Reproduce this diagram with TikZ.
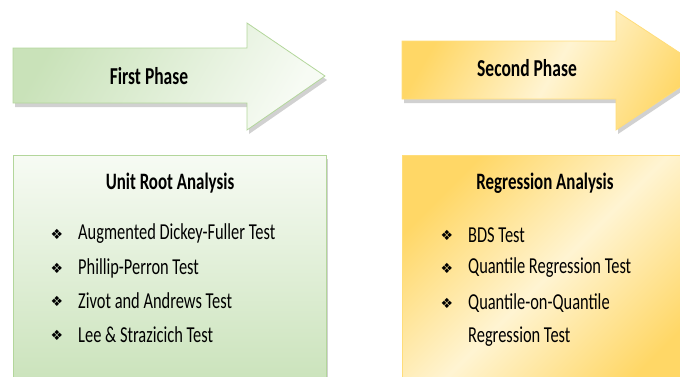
\documentclass[tikz,border=0pt]{standalone}
\usepackage{fontspec}
\setmainfont[FakeStretch=0.72]{Carlito}
\newfontfamily\simboli{DejaVu Sans}
\usetikzlibrary{shadows,positioning}
\definecolor{verdeA}{HTML}{C9E2B9}
\definecolor{verdeB}{HTML}{F7FBF4}
\definecolor{bordoV}{HTML}{B3D69B}
\definecolor{giallo}{HTML}{FFD766}
\definecolor{crema}{HTML}{FFF4D2}
\definecolor{bordoG}{HTML}{FFDD7A}
\tikzset{
  titolo/.style={font=\bfseries\fontsize{23.5}{26}\selectfont},
  voce/.style={font=\fontsize{22.8}{26}\selectfont, anchor=west, inner sep=0pt},
  punto/.style={font=\simboli\fontsize{14}{16}\selectfont, inner sep=0pt},
  ombra/.style={drop shadow={shadow xshift=2pt,shadow yshift=-4pt,opacity=0.3,fill=black!60}},
}
\begin{document}
\begin{tikzpicture}[x=1pt,y=-1pt]
        \clip (0,0) rectangle (680,376); %cornice
        %freccia prima fase
        \draw[bordoV, line width=0.8pt, ombra, left color=verdeA, right color=verdeB, shading angle=60]
          (13,48)--(247,48)--(247,23)--(325,76)--(247,130)--(247,103)--(13,103)--cycle;
        \node[titolo, font=\bfseries\fontsize{24.3}{26}\selectfont] (fase1) at (149,76) {First Phase};
        %freccia seconda fase
        \draw[bordoG, line width=0.8pt, ombra, left color=giallo, right color=giallo, middle color=crema, shading angle=60]
          (402,41)--(616,41)--(616,11)--(706,70)--(616,130)--(616,99)--(402,99)--cycle;
        \node[titolo, font=\bfseries\fontsize{24.3}{26}\selectfont] (fase2) at (527,68) {Second Phase};
        %riquadro radice unitaria
        \draw[bordoV, line width=0.8pt, ombra, top color=verdeB, bottom color=verdeA]
          (13,155) rectangle (326,390);
        \node[titolo] (radice) at (170,183) {Unit Root Analysis};
        \node[punto] (p1) at (57,234) {❖};
        \node[voce] (adf) at (78,234) {Augmented Dickey-Fuller Test};
        \node[punto] (p2) at (57,268) {❖};
        \node[voce] (pp) at (78,268) {Phillip-Perron Test};
        \node[punto] (p3) at (57,301) {❖};
        \node[voce] (za) at (78,301) {Zivot and Andrews Test};
        \node[punto] (p4) at (57,335) {❖};
        \node[voce] (ls) at (78,335) {Lee \& Strazicich Test};
        %riquadro regressione
        \draw[bordoG, line width=0.8pt, ombra, left color=giallo, right color=giallo, middle color=crema, shading angle=45]
          (402,155) rectangle (700,390);
        \node[titolo] (regr) at (545,183) {Regression Analysis};
        \node[punto] (q1) at (447,235) {❖};
        \node[voce] (bds) at (468,235) {BDS Test};
        \node[punto] (q2) at (447,268) {❖};
        \node[voce] (qr) at (468,268) {Quantile Regression Test};
        \node[punto] (q3) at (447,303) {❖};
        \node[voce] (qq) at (468,303) {Quantile-on-Quantile};
        \node[voce] (qq2) at (468,337) {Regression Test};
\end{tikzpicture}
\end{document}
